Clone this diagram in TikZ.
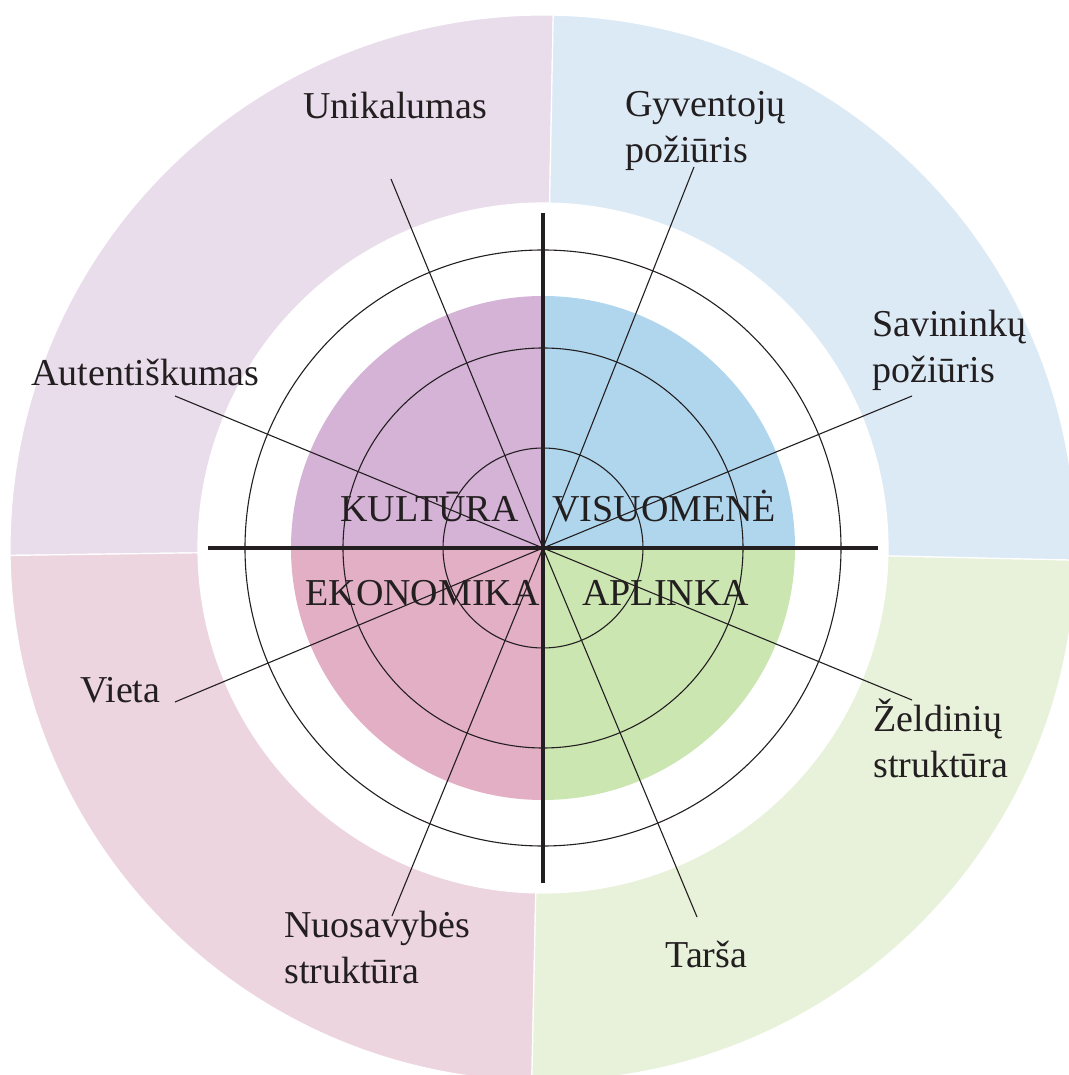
\documentclass[tikz,border=0pt]{standalone}
\usepackage{fontspec}
\setmainfont{Liberation Serif}
\definecolor{oTL}{HTML}{E9DDEC}
\definecolor{oTR}{HTML}{DCEAF6}
\definecolor{oBR}{HTML}{E8F2DA}
\definecolor{oBL}{HTML}{EDD5DF}
\definecolor{iTL}{HTML}{D5B3D7}
\definecolor{iTR}{HTML}{B0D6EE}
\definecolor{iBR}{HTML}{CCE6B2}
\definecolor{iBL}{HTML}{E3AFC4}
\definecolor{ink}{HTML}{231F20}
\tikzset{
  sector/.style={draw=white, line width=0.6pt},
  ring/.style={draw=ink, line width=0.55pt},
  spoke/.style={draw=ink, line width=0.55pt},
  axis/.style={draw=ink, line width=2pt},
  lbl/.style={anchor=base west, inner sep=0pt, text=ink,
    font=\fontsize{19}{23}\selectfont},
}
\newcommand{\twoline}[2]{\begin{tabular}[t]{@{}l@{}}#1\\#2\end{tabular}}
\begin{document}
\begin{tikzpicture}[x=0.5pt,y=0.5pt]
\useasboundingbox (-543,-527) rectangle (526,548);
\clip (-543,-527) rectangle (526,548);
\coordinate (c) at (0,0);
% outer ring sectors
\fill[oTL, sector] (88.9:533) arc[start angle=88.9, end angle=180.8, radius=533]
  -- (180.8:345) arc[start angle=180.8, end angle=88.9, radius=345] -- cycle;
\fill[oBL, sector] (180.8:533) arc[start angle=180.8, end angle=268.8, radius=533]
  -- (268.8:345) arc[start angle=268.8, end angle=180.8, radius=345] -- cycle;
\fill[oBR, sector] (268.8:533) arc[start angle=268.8, end angle=358.7, radius=533]
  -- (358.7:345) arc[start angle=358.7, end angle=268.8, radius=345] -- cycle;
\fill[oTR, sector] (-1.3:533) arc[start angle=-1.3, end angle=88.9, radius=533]
  -- (88.9:345) arc[start angle=88.9, end angle=-1.3, radius=345] -- cycle;
% inner quadrants
\fill[iTR] (c) -- (0:252) arc[start angle=0, end angle=90, radius=252] -- cycle;
\fill[iTL] (c) -- (90:252) arc[start angle=90, end angle=180, radius=252] -- cycle;
\fill[iBL] (c) -- (180:252) arc[start angle=180, end angle=270, radius=252] -- cycle;
\fill[iBR] (c) -- (270:252) arc[start angle=270, end angle=360, radius=252] -- cycle;
% circles
\draw[ring] (c) circle[radius=100];
\draw[ring] (c) circle[radius=200];
\draw[ring] (c) circle[radius=298];
% spoke ends
\coordinate (eUni) at (-152,369);
\coordinate (eGyv) at (151,381);
\coordinate (eSav) at (369,152);
\coordinate (eAut) at (-368,152);
\coordinate (eVie) at (-368,-154);
\coordinate (eZel) at (369,-152);
\coordinate (eNuo) at (-151,-368);
\coordinate (eTar) at (154,-369);
\foreach \e in {eUni,eGyv,eSav,eAut,eVie,eZel,eNuo,eTar}
  \draw[spoke] (\e) -- (c);
% axes
\coordinate (axN) at (0,335);
\coordinate (axS) at (0,-335);
\coordinate (axW) at (-335,0);
\coordinate (axE) at (335,0);
\draw[axis] (axN) -- (axS);
\draw[axis] (axW) -- (axE);
% inner labels
\node[lbl] (kul) at (-203,26) {KULTŪRA};
\node[lbl] (vis) at (9,26) {VISUOMENĖ};
\node[lbl] (eko) at (-238,-58) {EKONOMIKA};
\node[lbl] (apl) at (39,-58) {APLINKA};
% outer labels
\node[lbl] (uni) at (-240,429) {Unikalumas};
\node[lbl] (gyv) at (82,431) {\twoline{Gyventojų}{požiūris}};
\node[lbl] (sav) at (329,211) {\twoline{Savininkų}{požiūris}};
\node[lbl] (aut) at (-512,162) {Autentiškumas};
\node[lbl] (vie) at (-463,-155) {Vieta};
\node[lbl] (zel) at (330,-184) {\twoline{Želdinių}{struktūra}};
\node[lbl] (nuo) at (-259,-389) {\twoline{Nuosavybės}{struktūra}};
\node[lbl] (tar) at (122,-419) {Tarša};
\end{tikzpicture}
\end{document}
